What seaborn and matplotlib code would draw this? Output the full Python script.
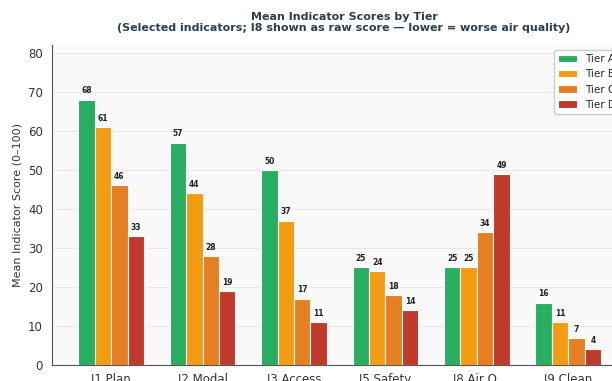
import pandas as pd
import matplotlib
matplotlib.use("Agg")
import matplotlib.pyplot as plt
import seaborn as sns

# Data
indicators = ["I1 Plan", "I2 Modal", "I3 Access", "I5 Safety", "I8 Air Q.", "I9 Clean"]
tiers = ["Tier A", "Tier B", "Tier C", "Tier D"]
tier_a = [68, 57, 50, 25, 25, 16]
tier_b = [61, 44, 37, 24, 25, 11]
tier_c = [46, 28, 17, 18, 34, 7]
tier_d = [33, 19, 11, 14, 49, 4]
tier_colors = ["#27ae60", "#f39c12", "#e67e22", "#c0392b"]

# Long format table for seaborn
rows = []
for tier, vals in zip(tiers, [tier_a, tier_b, tier_c, tier_d]):
    for ind, v in zip(indicators, vals):
        rows.append({"indicator": ind, "tier": tier, "score": v})
df = pd.DataFrame(rows)

sns.set_style("white")
plt.rcParams["font.family"] = ["DejaVu Sans"]

fig = plt.figure(figsize=(6.12, 3.81), dpi=100)
# axes runs past the right edge, like the cropped original
ax = fig.add_axes([52 / 612, 1 - 365 / 381, (636 - 52) / 612, (365 - 45) / 381])
ax.set_facecolor("#f9f9f9")

sns.barplot(data=df, x="indicator", y="score", hue="tier", order=indicators,
            hue_order=tiers, palette=tier_colors, width=0.72,
            edgecolor="white", linewidth=0.8, saturation=1, errorbar=None, ax=ax)

for cont in ax.containers:
    ax.bar_label(cont, fmt="%d", padding=3, fontsize=5.5, fontweight="bold", color="#222222")

ax.set_xlim(-0.646, 5.74)
ax.set_ylim(0, 82)
ax.set_yticks(range(0, 81, 10))
ax.yaxis.grid(True, color="#e8e8e8", linewidth=0.8)
ax.set_axisbelow(True)

ax.set_xlabel("")
ax.set_ylabel("Mean Indicator Score (0\u2013100)", fontsize=8, color="#333333")
ax.tick_params(axis="both", labelsize=8.5, colors="#333333", length=3, width=0.8)
ax.tick_params(axis="x", pad=2.5)

for side in ["top", "right"]:
    ax.spines[side].set_visible(False)
ax.spines["left"].set_color("#555555")
ax.spines["bottom"].set_color("#555555")

ax.set_title("Mean Indicator Scores by Tier\n(Selected indicators; I8 shown as raw score \u2014 lower = worse air quality)",
             fontsize=8, fontweight="bold", color="#2c3e50", pad=10, linespacing=1.2)

ax.legend(loc="upper left", fontsize=7.5, frameon=True, facecolor="white",
          edgecolor="#cccccc", framealpha=1, handlelength=1.8, borderaxespad=0,
          bbox_to_anchor=((554 - 52) / 584, 1 - 5 / 320))

fig.savefig("out.png", dpi=100)
